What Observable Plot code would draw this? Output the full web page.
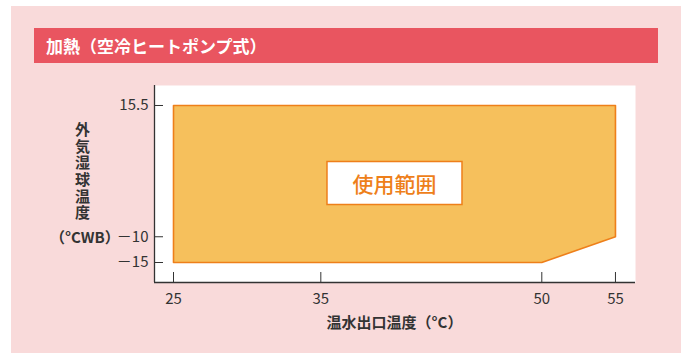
<!DOCTYPE html>
<html><head><meta charset="utf-8">
<script src="https://cdn.jsdelivr.net/npm/d3@7"></script>
<script src="https://cdn.jsdelivr.net/npm/@observablehq/plot@0.6"></script>
<style>
html,body{margin:0;padding:0;background:#fff;width:686px;height:353px;overflow:hidden;}
body{font-family:"Noto Sans CJK JP","Noto Sans",sans-serif;position:relative;}
#panel{position:absolute;left:11px;top:6px;width:670px;height:347px;background:#F9DADA;}
#header{position:absolute;left:34px;top:28px;width:624px;height:35px;background:#E95560;color:#fff;font-weight:bold;font-size:17px;line-height:35px;padding-left:12px;box-sizing:border-box;}
#chart{position:absolute;left:0;top:0;}
#ytitle{position:absolute;left:72px;top:122px;writing-mode:vertical-rl;text-orientation:upright;font-weight:bold;font-size:15px;letter-spacing:1.6px;color:#333;}
#yunit{position:absolute;left:50px;top:226px;font-size:15px;font-weight:bold;color:#333;}
#xtitle{position:absolute;left:154px;width:481px;top:311px;text-align:center;font-size:15px;font-weight:bold;color:#333;}
</style></head>
<body>
<div id="panel"></div>
<div id="header">加熱（空冷ヒートポンプ式）</div>
<div id="chart"></div>
<div id="ytitle">外気湿球温度</div>
<div id="yunit">（°CWB）</div>
<div id="xtitle">温水出口温度（°C）</div>
<script>
const polyX = [25, 55, 55, 50, 25];
const polyY = [15.5, 15.5, -10, -15, -15];
const xTicks = [25, 35, 50, 55];
const yTicks = [15.5, -10, -15];
const labelText = ["使用範囲"];
const labelX = [40];
const labelY = [0];
const xDomain = [23.71, 56.36];
const yDomain = [-18.885, 19.385];

const poly = polyX.map((x, i) => ({x, y: polyY[i]}));
const label = labelText.map((t, i) => ({t, x: labelX[i], y: labelY[i]}));
const fmt = d => (d < 0 ? "－" : "") + Math.abs(d);

const ink = "#333";
const svg = Plot.plot({
  width: 686, height: 353,
  marginLeft: 154, marginRight: 51, marginTop: 85, marginBottom: 71,
  style: {background: "transparent", fontFamily: '"Noto Sans CJK JP","Noto Sans",sans-serif', fontSize: "15px", color: ink, overflow: "visible"},
  x: {domain: xDomain, label: null},
  y: {domain: yDomain, label: null},
  marks: [
    Plot.frame({fill: "white", stroke: "none"}),
    Plot.line(poly, {x: "x", y: "y", curve: "linear-closed", fill: "#F6C05C", stroke: "#EE7F1A", strokeWidth: 1.6}),
    Plot.axisX({ticks: xTicks, tickSize: -10, tickFormat: () => "", label: null, stroke: ink, strokeWidth: 1}),
    Plot.axisX({ticks: xTicks, tickSize: 0, tickPadding: 11, tickFormat: fmt, label: null, fill: ink, fontSize: 15}),
    Plot.axisY({ticks: yTicks, tickSize: -9, tickFormat: () => "", label: null, stroke: ink, strokeWidth: 1}),
    Plot.axisY({ticks: yTicks, tickSize: 0, tickPadding: 6, tickFormat: fmt, label: null, fill: ink, fontSize: 15}),
    Plot.ruleX([xDomain[0]], {stroke: ink, strokeWidth: 1.3}),
    Plot.ruleY([yDomain[0]], {stroke: ink, strokeWidth: 1.3}),
    Plot.text(label, {x: "x", y: "y", text: "t", fill: "#EE7F1A", fontSize: 21, fontWeight: 500, className: "rangeLabel"})
  ]
});
document.getElementById("chart").appendChild(svg);
// white box behind the label, sized around the rendered text
svg.querySelectorAll(".rangeLabel text").forEach(t => {
  const b = t.getBBox();
  const w = 135, h = 43;
  const r = document.createElementNS("http://www.w3.org/2000/svg", "rect");
  r.setAttribute("x", b.x + b.width / 2 - w / 2);
  r.setAttribute("y", b.y + b.height / 2 - h / 2);
  r.setAttribute("width", w);
  r.setAttribute("height", h);
  if (t.getAttribute("transform")) r.setAttribute("transform", t.getAttribute("transform"));
  r.setAttribute("fill", "white");
  r.setAttribute("stroke", "#EE7F1A");
  r.setAttribute("stroke-width", 1.5);
  t.parentNode.insertBefore(r, t);
});
</script>
</body></html>
